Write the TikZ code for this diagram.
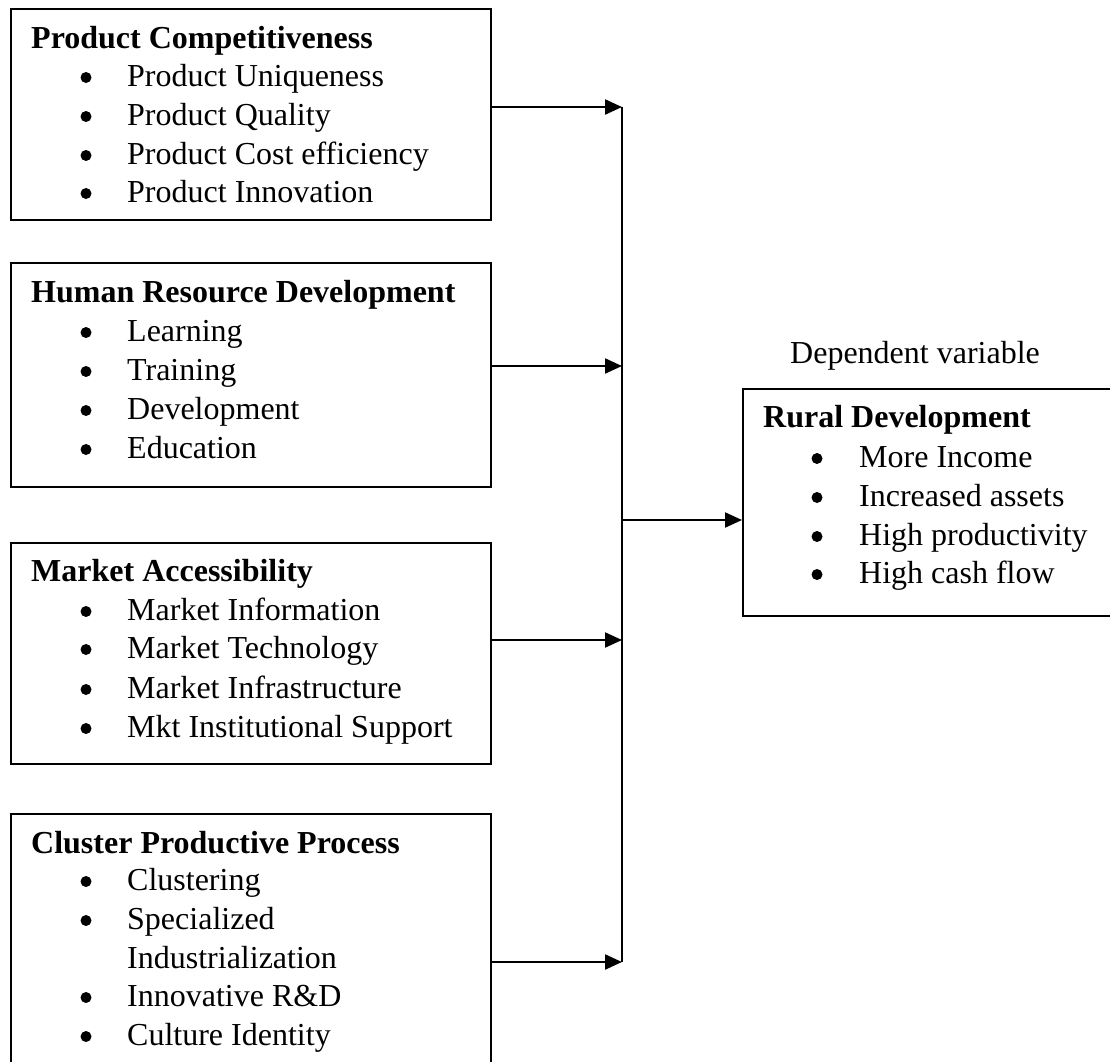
\documentclass[tikz,border=0pt]{standalone}
\usepackage{fontspec}
\setmainfont{Liberation Serif}
\usetikzlibrary{arrows.meta}
\newcommand{\fsz}{\fontsize{32pt}{38.7pt}\selectfont}
\tikzset{
  box/.style={draw, line width=2pt, rectangle, inner sep=0pt, anchor=north west},
  ttl/.style={anchor=base west, inner sep=0pt, font=\fsz\bfseries},
  itm/.style={anchor=base west, inner sep=0pt, font=\fsz},
  bul/.style={circle, fill=black, inner sep=0pt, minimum size=11pt},
  conn/.style={line width=2.2pt},
  arr/.style={conn, -{Triangle[length=17pt,width=15pt]}}
}
\begin{document}
\begin{tikzpicture}[x=1pt,y=-1pt]
\path[use as bounding box, clip] (0,0) rectangle (1110,1061);
% boxes
\node[box, minimum width=480pt, minimum height=211pt] (b1) at (10,8) {};
\node[box, minimum width=480pt, minimum height=224pt] (b2) at (10,262) {};
\node[box, minimum width=480pt, minimum height=221pt] (b3) at (10,542) {};
\node[box, minimum width=480pt, minimum height=290pt] (b4) at (10,813) {};
\node[box, minimum width=420pt, minimum height=227pt] (rd) at (742,388) {};
% box 1
\node[ttl] (t1) at (31,48) {Product Competitiveness};
\foreach \y/\t [count=\i] in {86/Product Uniqueness,125/Product Quality,164/Product Cost efficiency,202/Product Innovation}{
  \node[bul] (b1d\i) at (86,\y-8.5) {};
  \node[itm] (b1i\i) at (127,\y) {\t};
}
% box 2
\node[ttl] (t2) at (31,302) {Human Resource Development};
\foreach \y/\t [count=\i] in {341/Learning,380/Training,419/Development,458/Education}{
  \node[bul] (b2d\i) at (86,\y-8.5) {};
  \node[itm] (b2i\i) at (127,\y) {\t};
}
% box 3
\node[ttl] (t3) at (31,581) {Market Accessibility};
\foreach \y/\t [count=\i] in {620/Market Information,658/Market Technology,698/Market Infrastructure,737/Mkt Institutional Support}{
  \node[bul] (b3d\i) at (86,\y-8.5) {};
  \node[itm] (b3i\i) at (127,\y) {\t};
}
% box 4
\node[ttl] (t4) at (31,853) {Cluster Productive Process};
\foreach \y/\t [count=\i] in {890/Clustering,929/Specialized,1006/Innovative R\&D,1045/Culture Identity}{
  \node[bul] (b4d\i) at (86,\y-8.5) {};
  \node[itm] (b4i\i) at (127,\y) {\t};
}
\node[itm] (b4x) at (127,968) {Industrialization};
% rural development
\node[itm] (dv) at (790,363) {Dependent variable};
\node[ttl] (t5) at (763,427) {Rural Development};
\foreach \y/\t [count=\i] in {467/More Income,506/Increased assets,545/High productivity,583/High cash flow}{
  \node[bul] (rdd\i) at (817,\y-8.5) {};
  \node[itm] (rdi\i) at (859,\y) {\t};
}
% connectors
\coordinate (j1) at (622,107);
\coordinate (j2) at (622,366);
\coordinate (j3) at (622,640);
\coordinate (j4) at (622,962);
\coordinate (jm) at (622,520);
\draw[conn] (j1) -- (j4);
\draw[arr] (b1.east |- j1) -- (j1);
\draw[arr] (b2.east |- j2) -- (j2);
\draw[arr] (b3.east |- j3) -- (j3);
\draw[arr] (b4.east |- j4) -- (j4);
\draw[arr] (jm) -- (rd.west |- jm);
\end{tikzpicture}
\end{document}
